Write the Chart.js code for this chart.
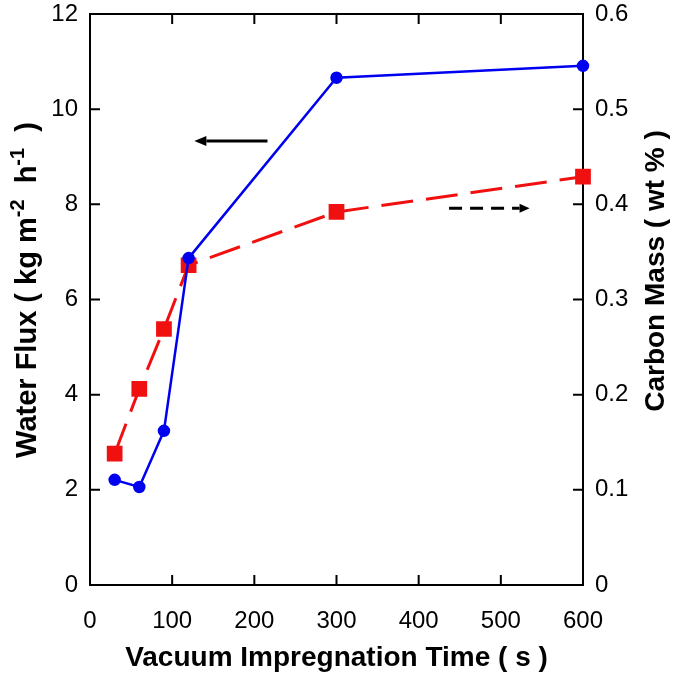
<!DOCTYPE html>
<html>
<head>
<meta charset="utf-8">
<script src="https://cdn.jsdelivr.net/npm/chart.js@4.4.1/dist/chart.umd.min.js"></script>
<style>
  html, body { margin: 0; padding: 0; background: #fff; }
  #wrap { width: 675px; height: 675px; }
</style>
</head>
<body>
<div id="wrap"><canvas id="chart"></canvas></div>
<script>
// data
const times = [30, 60, 90, 120, 300, 600];
const waterFlux = [2.21, 2.06, 3.24, 6.87, 10.66, 10.91];
const carbonMass = [0.138, 0.206, 0.269, 0.336, 0.392, 0.429];

const xTicks = [0, 100, 200, 300, 400, 500, 600];
const fluxTicks = [0, 2, 4, 6, 8, 10, 12];
const massTicks = [0, 0.1, 0.2, 0.3, 0.4, 0.5, 0.6];

// arrows pointing at the axis each curve belongs to (data units)
const fluxArrow = [216, 127, 9.33];   // x from, x to, flux value
const massArrow = [437, 535, 0.396];  // x from, x to, mass value

const FONT = "'Liberation Sans', Arial, Helvetica, sans-serif";

function fixedTicks(list) {
  return scale => { scale.ticks = list.map(v => ({ value: v })); };
}

// rotated axis title made of [text, superscript?] pieces, reading bottom to top
function drawVTitle(ctx, parts, baseX, centerY, size) {
  const supSize = Math.round(size * 0.68);
  ctx.save();
  ctx.translate(baseX, centerY);
  ctx.rotate(-Math.PI / 2);
  ctx.fillStyle = '#000';
  ctx.textAlign = 'left';
  ctx.textBaseline = 'alphabetic';
  let total = 0;
  const widths = parts.map(([t, sup]) => {
    ctx.font = 'bold ' + (sup ? supSize : size) + 'px ' + FONT;
    const w = ctx.measureText(t).width;
    total += w;
    return w;
  });
  let x = -total / 2;
  parts.forEach(([t, sup], i) => {
    ctx.font = 'bold ' + (sup ? supSize : size) + 'px ' + FONT;
    ctx.fillText(t, x, sup ? -size * 0.42 : 0);
    x += widths[i];
  });
  ctx.restore();
}

// box around the plot + inward tick marks, arrows, y titles
const frame = {
  id: 'frame',
  beforeDatasetsDraw(chart) {
    const { ctx, chartArea: a, scales } = chart;
    const len = 10;
    ctx.save();
    ctx.strokeStyle = '#000';
    ctx.lineWidth = 2;
    ctx.strokeRect(a.left, a.top, a.right - a.left, a.bottom - a.top);
    ctx.beginPath();
    xTicks.forEach(v => {
      const px = scales.x.getPixelForValue(v);
      ctx.moveTo(px, a.bottom); ctx.lineTo(px, a.bottom - len);
      ctx.moveTo(px, a.top); ctx.lineTo(px, a.top + len);
    });
    fluxTicks.forEach(v => {
      const py = scales.y.getPixelForValue(v);
      ctx.moveTo(a.left, py); ctx.lineTo(a.left + len, py);
    });
    massTicks.forEach(v => {
      const py = scales.y2.getPixelForValue(v);
      ctx.moveTo(a.right, py); ctx.lineTo(a.right - len, py);
    });
    ctx.stroke();
    ctx.restore();
  },
  afterDatasetsDraw(chart) {
    const { ctx, scales } = chart;
    const drawArrow = (x1, x2, py, dash, head, w) => {
      const p1 = scales.x.getPixelForValue(x1);
      const p2 = scales.x.getPixelForValue(x2);
      const dir = Math.sign(p2 - p1);
      ctx.save();
      ctx.strokeStyle = '#000';
      ctx.fillStyle = '#000';
      ctx.lineWidth = 3;
      ctx.setLineDash(dash);
      ctx.beginPath();
      ctx.moveTo(p1, py);
      ctx.lineTo(p2 - dir * head, py);
      ctx.stroke();
      ctx.setLineDash([]);
      ctx.beginPath();
      ctx.moveTo(p2, py);
      ctx.lineTo(p2 - dir * head, py - w);
      ctx.lineTo(p2 - dir * head, py + w);
      ctx.closePath();
      ctx.fill();
      ctx.restore();
    };
    drawArrow(fluxArrow[0], fluxArrow[1], scales.y.getPixelForValue(fluxArrow[2]), [], 12, 5);
    drawArrow(massArrow[0], massArrow[1], scales.y2.getPixelForValue(massArrow[2]), [13, 8], 10, 4.5);

    drawVTitle(ctx, [['Water Flux ( kg m', false], ['-2', true], ['  h', false], ['-1', true], ['  )', false]], 36, 290, 29);
    drawVTitle(ctx, [['Carbon Mass ( wt % )', false]], 664, 271, 28);
  }
};

new Chart(document.getElementById('chart'), {
  type: 'line',
  data: {
    datasets: [
      {
        label: 'Water Flux',
        data: times.map((t, i) => ({ x: t, y: waterFlux[i] })),
        yAxisID: 'y',
        borderColor: '#0000f0',
        backgroundColor: '#0000f0',
        borderWidth: 2.5,
        pointStyle: 'circle',
        pointRadius: 5,
        clip: false
      },
      {
        label: 'Carbon Mass',
        data: times.map((t, i) => ({ x: t, y: carbonMass[i] })),
        yAxisID: 'y2',
        borderColor: '#f01010',
        backgroundColor: '#f01010',
        borderWidth: 3,
        borderDash: [32, 13],
        pointStyle: 'rect',
        pointRadius: 9,
        clip: false
      }
    ]
  },
  options: {
    responsive: true,
    maintainAspectRatio: false,
    animation: false,
    layout: { padding: { top: 14, left: 0, right: 0, bottom: 0 } },
    plugins: { legend: { display: false }, tooltip: { enabled: false } },
    scales: {
      x: {
        type: 'linear',
        min: 0, max: 600,
        afterBuildTicks: fixedTicks(xTicks),
        afterFit: s => { s.height = 90; s.paddingLeft = 0; s.paddingRight = 0; },
        grid: { display: false, drawTicks: false },
        border: { display: false },
        ticks: { color: '#000', padding: 22, font: { family: FONT, size: 24 } },
        title: {
          display: true,
          text: 'Vacuum Impregnation Time ( s )',
          color: '#000',
          font: { family: FONT, size: 28, weight: 'bold', lineHeight: 1 },
          padding: { top: 0, bottom: 3 }
        }
      },
      y: {
        position: 'left',
        min: 0, max: 12,
        afterBuildTicks: fixedTicks(fluxTicks),
        afterFit: s => { s.width = 90; s.paddingTop = 0; s.paddingBottom = 0; },
        grid: { display: false, drawTicks: false },
        border: { display: false },
        ticks: { color: '#000', padding: 12, font: { family: FONT, size: 24 } }
      },
      y2: {
        position: 'right',
        min: 0, max: 0.6,
        afterBuildTicks: fixedTicks(massTicks),
        afterFit: s => { s.width = 92; s.paddingTop = 0; s.paddingBottom = 0; },
        grid: { display: false, drawTicks: false },
        border: { display: false },
        ticks: { color: '#000', padding: 12, font: { family: FONT, size: 24 }, callback: v => String(v) }
      }
    }
  },
  plugins: [frame]
});
</script>
</body>
</html>
